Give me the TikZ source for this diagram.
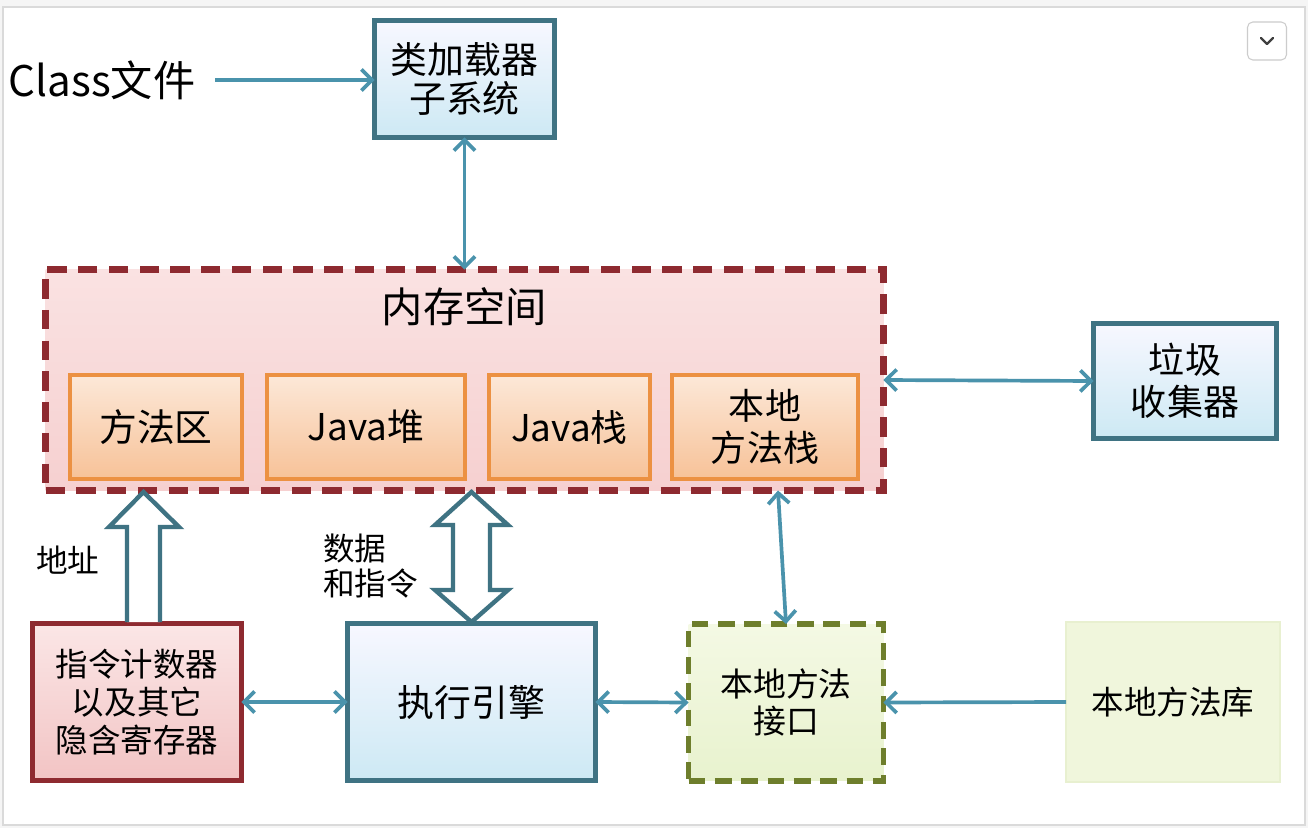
\documentclass[tikz,border=0pt]{standalone}
\usepackage{fontspec}
\setmainfont{Noto Sans CJK SC}
\usetikzlibrary{arrows.meta,calc}
\definecolor{bluebd}{HTML}{3F7383}
\definecolor{arrc}{HTML}{4A93AC}
\definecolor{memred}{HTML}{8E2A30}
\definecolor{orangebd}{HTML}{EC9142}
\definecolor{olivebd}{HTML}{6E7E2C}
\definecolor{framegray}{HTML}{DADADA}
\tikzset{
  box/.style={draw, inner sep=0pt, outer sep=0pt, align=center, text=black},
  bluebox/.style={box, draw=bluebd, line width=3.2pt, top color=blue!3!white, bottom color={rgb,255:red,205;green,233;blue,244}},
  orangebox/.style={box, draw=orangebd, line width=2.6pt, top color={rgb,255:red,252;green,232;blue,216}, bottom color={rgb,255:red,247;green,194;blue,152}},
  redbox/.style={box, draw=memred, line width=3.2pt, top color={rgb,255:red,251;green,230;blue,230}, bottom color={rgb,255:red,242;green,196;blue,196}},
  membox/.style={box, draw=memred, line width=3.6pt, dash pattern=on 11pt off 6.5pt, top color={rgb,255:red,250;green,226;blue,226}, bottom color={rgb,255:red,246;green,208;blue,208}},
  greendash/.style={box, draw=olivebd, line width=3.2pt, dash pattern=on 9.5pt off 5.5pt, top color={rgb,255:red,244;green,249;blue,228}, bottom color={rgb,255:red,232;green,242;blue,206}},
  greenbox/.style={box, draw={rgb,255:red,232;green,240;blue,208}, line width=1pt, fill={rgb,255:red,240;green,246;blue,220}},
  arr/.style={draw=arrc, line width=2.1pt, -{Straight Barb[length=6pt,width=12pt]}},
  darr/.style={draw=arrc, line width=2.1pt, {Straight Barb[length=6pt,width=12pt]}-{Straight Barb[length=6pt,width=12pt]}},
  hollow/.style={draw=bluebd, line width=2.5pt, fill=white, line join=miter},
  plain/.style={inner sep=0pt, outer sep=0pt, text=black}
}
\begin{document}
\begin{tikzpicture}[x=0.02cm,y=-0.02cm]
\useasboundingbox (0,0) rectangle (1308,828);
% page frame
\fill[gray!8] (0,0) rectangle (1308,828);
\draw[framegray, line width=1pt, fill=white] (3,7) rectangle (1305,825);
% menu button
\node[draw=gray!40, line width=0.6pt, fill=white, rounded corners=3pt, minimum width=0.78cm, minimum height=0.76cm, inner sep=0pt] (btn) at (1267,41) {};
\draw[black!75, line width=1.3pt, line cap=round, line join=round] ($(btn.center)+(-6,-3)$) -- ($(btn.center)+(0,3)$) -- ($(btn.center)+(6,-3)$);

% Class file
\node[plain, font=\fontsize{24}{26}\selectfont] (cls) at (102,80) {Class文件};
% loader
\node[bluebox, minimum width=3.6cm, minimum height=2.34cm, font=\fontsize{21}{22}\selectfont] (loader) at (464.5,79) {类加载器\\子系统};

% memory area
\node[membox, minimum width=16.76cm, minimum height=4.42cm] (mem) at (464.5,380) {};
\node[plain, font=\fontsize{23.5}{25}\selectfont] (memt) at ($(mem.north)+(0,37)$) {内存空间};
\node[orangebox, minimum width=3.44cm, minimum height=2.08cm, font=\fontsize{21.5}{23}\selectfont] (ma) at (156,427) {方法区};
\node[orangebox, minimum width=3.96cm, minimum height=2.08cm, font=\fontsize{21}{23}\selectfont] (heap) at (366,427) {Java堆};
\node[orangebox, minimum width=3.22cm, minimum height=2.08cm, font=\fontsize{21}{23}\selectfont] (jstack) at (569.5,427) {Java栈};
\node[orangebox, minimum width=3.72cm, minimum height=2.08cm, font=\fontsize{20.5}{23.8}\selectfont] (nstack) at (765,427) {本地\\方法栈};

% GC
\node[bluebox, minimum width=3.66cm, minimum height=2.3cm, font=\fontsize{20.5}{24}\selectfont] (gc) at (1185,381) {垃圾\\收集器};

% bottom row
\node[redbox, minimum width=4.18cm, minimum height=3.14cm, font=\fontsize{18.5}{21.8}\selectfont] (pc) at (137,702) {指令计数器\\以及其它\\隐含寄存器};
\node[bluebox, minimum width=4.96cm, minimum height=3.14cm, font=\fontsize{21}{23}\selectfont] (exec) at (471.5,702) {执行引擎};
\node[greendash, minimum width=3.9cm, minimum height=3.14cm, font=\fontsize{18.7}{21}\selectfont] (ni) at (786,702.5) {本地方法\\接口};
\node[greenbox, minimum width=4.28cm, minimum height=3.2cm, font=\fontsize{18.5}{21}\selectfont] (lib) at (1173,702) {本地方法库};

% labels
\node[plain, font=\fontsize{18}{20}\selectfont] (addr) at (68,560) {地址};
\node[plain, anchor=west, align=left, font=\fontsize{18}{20}\selectfont] (data) at (323,566) {数据\\和指令};

% thin connectors
\draw[arr, shorten <=0.4cm] (cls.east) -- (loader.west |- cls.east);
\draw[darr] (loader.south) -- (mem.north);
\draw[darr] (mem.east) -- (gc.west);
\draw[darr] (pc.east) -- (exec.west);
\draw[darr] (exec.east) -- (ni.west);
\draw[arr] (lib.west) -- (ni.east);
\draw[darr] ([xshift=-0.16cm]mem.south -| ni.north) -- (ni.north);

% hollow arrow: address
\draw[hollow] (127,622) -- (127,527) -- (109,527) -- (143.5,492) -- (179,527) -- (160,527) -- (160,622);
% hollow double arrow: data and instructions
\draw[hollow] (471.5,492) -- (508,525) -- (490,525) -- (490,590) -- (508,590) -- (471.5,622) -- (435,590) -- (453,590) -- (453,525) -- (435,525) -- cycle;
\end{tikzpicture}
\end{document}
